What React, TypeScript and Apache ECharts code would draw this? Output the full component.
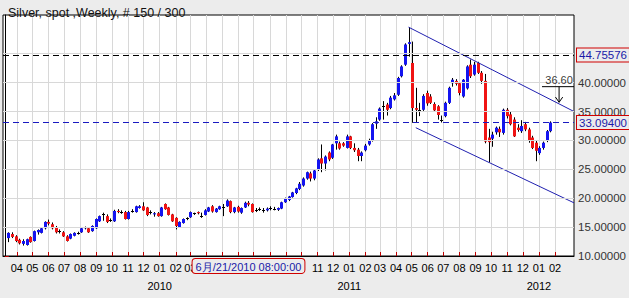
import React, { useEffect, useRef } from 'react';
import * as echarts from 'echarts';

// ---------- data ----------
const TITLE = 'Silver, spot ,Weekly, # 150 / 300';
const START_UTC = Date.UTC(2009, 2, 9); // Monday of the first (empty) weekly slot
const SLOT_COUNT = 157; // 1 empty slot + 150 weekly bars + 6 empty slots
const FIRST_BAR_SLOT = 1;
const FIRST_MONTH = [2009, 3]; // April 2009 (0-based month)
const LAST_MONTH = [2012, 1]; // February 2012

const OPEN = [
  13.1, 13.8, 13.4, 12.8, 12.1, 11.9, 13.3, 12.6, 14.1, 14.0,
  14.8, 15.9, 15.5, 15.0, 14.3, 14.1, 13.4, 13.0, 13.5, 14.0,
  14.1, 14.8, 14.8, 14.3, 14.8, 16.0, 17.2, 16.9, 16.2, 16.0,
  17.8, 17.6, 17.6, 16.4, 17.8, 17.6, 18.3, 18.6, 18.4, 17.6,
  17.2, 17.4, 16.9, 19.0, 18.4, 17.2, 16.6, 15.0, 15.7, 16.5,
  16.7, 17.4, 17.6, 17.0, 17.1, 17.7, 18.6, 17.6, 18.1, 18.4,
  18.6, 19.5, 17.6, 18.5, 17.5, 18.4, 19.2, 19.0, 17.9, 18.1,
  18.0, 17.9, 18.3, 18.2, 18.0, 18.2, 19.3, 19.7, 20.2, 20.9,
  21.6, 22.2, 23.4, 24.3, 23.4, 25.0, 26.9, 26.0, 27.9, 27.0,
  29.5, 29.5, 29.5, 28.7, 30.7, 28.7, 28.4, 27.3, 28.3, 29.3,
  29.9, 32.9, 33.6, 35.8, 36.2, 35.6, 37.1, 37.9, 41.1, 43.1,
  46.7, 43.4, 35.6, 35.3, 35.3, 38.2, 37.6, 36.3, 35.9, 33.4,
  34.2, 36.5, 39.9, 40.3, 39.9, 37.6, 39.0, 43.1, 41.4, 43.4,
  41.7, 40.3, 30.5, 30.3, 31.4, 32.0, 31.3, 35.3, 34.5, 33.6,
  32.2, 31.6, 32.8, 31.9, 30.5, 29.6, 27.8, 28.7, 29.9, 31.6,
];
const HIGH = [
  14.1, 14.1, 13.6, 13.0, 12.9, 13.0, 13.4, 14.4, 14.6, 15.0,
  16.0, 16.3, 15.8, 15.2, 14.6, 14.3, 13.6, 13.9, 14.1, 14.2,
  15.0, 15.1, 15.0, 15.3, 16.5, 17.0, 17.5, 17.2, 16.5, 18.0,
  18.1, 17.9, 17.8, 17.8, 18.1, 18.7, 18.8, 19.3, 18.5, 17.9,
  17.6, 17.6, 18.5, 19.1, 18.5, 17.3, 16.7, 16.0, 16.5, 16.7,
  17.7, 17.5, 17.7, 17.5, 18.1, 18.5, 18.8, 18.3, 18.7, 19.0,
  19.8, 19.6, 18.5, 18.7, 18.4, 19.4, 19.5, 19.1, 18.3, 18.4,
  18.3, 18.4, 18.6, 18.5, 18.4, 19.4, 20.1, 20.4, 21.1, 21.8,
  22.8, 23.6, 24.6, 24.6, 24.9, 26.9, 29.3, 27.4, 28.1, 29.4,
  31.0, 29.8, 29.7, 31.0, 30.8, 29.5, 28.7, 28.1, 29.4, 30.3,
  33.0, 34.0, 35.7, 36.8, 36.5, 37.7, 38.2, 41.0, 43.0, 46.8,
  49.6, 47.1, 39.1, 36.5, 38.0, 38.6, 38.0, 36.6, 36.1, 34.3,
  36.7, 39.3, 40.8, 40.6, 40.1, 40.6, 43.0, 44.0, 43.6, 43.6,
  42.0, 41.5, 32.0, 31.5, 32.4, 32.4, 35.5, 35.6, 35.0, 34.0,
  32.8, 33.5, 33.2, 32.2, 30.8, 29.9, 29.0, 29.8, 31.8, 33.3,
];
const LOW = [
  12.4, 13.1, 12.4, 12.0, 11.8, 11.8, 12.3, 12.5, 13.7, 13.9,
  14.6, 15.3, 14.6, 13.9, 13.9, 13.3, 12.5, 12.9, 13.4, 13.7,
  14.0, 14.6, 14.0, 14.2, 14.7, 15.9, 16.1, 15.7, 15.9, 15.9,
  17.4, 17.3, 16.3, 16.3, 17.5, 17.5, 18.2, 17.8, 16.9, 17.2,
  16.8, 16.8, 16.8, 18.0, 17.0, 15.9, 14.6, 14.9, 15.6, 16.2,
  16.6, 17.1, 17.2, 16.6, 17.0, 17.6, 17.5, 17.5, 18.0, 16.9,
  18.5, 17.4, 17.4, 17.5, 17.3, 18.3, 18.6, 17.5, 17.6, 17.8,
  17.5, 17.7, 17.9, 17.9, 17.8, 18.1, 19.2, 19.5, 20.1, 20.7,
  21.4, 22.0, 23.2, 22.9, 23.1, 24.7, 24.5, 24.8, 26.4, 26.8,
  28.4, 28.4, 28.9, 28.6, 28.5, 28.0, 26.4, 26.4, 28.1, 29.1,
  29.8, 32.0, 33.4, 33.6, 34.3, 35.4, 36.9, 37.7, 40.9, 42.9,
  44.5, 33.05, 33.05, 34.2, 35.1, 36.0, 36.3, 35.0, 33.6, 33.1,
  34.0, 36.3, 39.3, 39.5, 37.8, 37.4, 38.8, 40.8, 41.2, 41.5,
  39.8, 29.5, 26.2, 28.9, 31.0, 30.6, 31.0, 33.8, 32.6, 30.6,
  31.5, 31.3, 31.6, 29.6, 28.5, 26.4, 27.5, 28.4, 29.7, 31.4,
];
const CLOSE = [
  14.0, 13.3, 12.6, 12.2, 12.6, 12.9, 12.4, 14.3, 14.5, 14.8,
  15.9, 15.6, 14.8, 14.1, 14.3, 13.4, 12.6, 13.8, 14.0, 14.0,
  14.8, 15.0, 14.1, 15.2, 16.4, 16.9, 17.2, 15.9, 16.2, 17.8,
  17.6, 17.6, 16.4, 17.6, 17.8, 18.6, 18.6, 17.9, 17.1, 17.6,
  17.4, 16.9, 18.4, 18.1, 17.1, 16.0, 15.2, 15.9, 16.4, 16.5,
  17.6, 17.4, 17.4, 17.0, 17.9, 18.4, 17.7, 18.2, 18.6, 18.5,
  19.6, 17.6, 18.4, 17.7, 18.3, 19.2, 18.9, 17.6, 18.0, 18.1,
  18.0, 18.2, 18.2, 18.2, 18.3, 19.3, 20.0, 20.3, 21.0, 21.7,
  22.5, 23.4, 24.5, 23.4, 24.8, 26.7, 26.0, 27.2, 26.7, 29.3,
  30.7, 28.6, 29.1, 30.7, 28.7, 28.3, 27.3, 27.9, 29.1, 29.9,
  32.8, 33.3, 35.5, 35.9, 35.3, 37.4, 37.8, 40.8, 42.8, 46.6,
  47.0, 35.6, 35.3, 35.15, 37.7, 36.4, 36.5, 35.2, 34.4, 33.5,
  36.5, 39.1, 40.5, 39.8, 38.2, 40.5, 42.8, 41.1, 43.1, 41.7,
  40.3, 29.8, 29.7, 31.0, 32.2, 31.4, 35.3, 34.2, 32.8, 30.7,
  31.8, 32.5, 31.9, 29.9, 28.7, 28.2, 28.7, 29.6, 31.6, 33.094,
];

const Y_TICKS = [10, 15, 20, 25, 30, 35, 40, 45];
const Y_GRID = [15, 20, 25, 30, 35, 40, 45];
const RESISTANCE = 44.75576;
const LAST_PRICE = 33.094;
// trend channel, in [slot, price]
const CHANNEL_UPPER = [[111, 49.6], [156.5, 35.0]];
const CHANNEL_LOWER = [[113, 32.2], [156.5, 19.2]];
// "36.60" note
const NOTE_TEXT = '36.60';
const NOTE_UNDERLINE = [[147.7, 39.3], [156.5, 39.3]];
const NOTE_ARROW = [[152.4, 39.3], [152.4, 36.6]];
const NOTE_HEAD = [[151.4, 37.5], [152.4, 36.6], [153.4, 37.5]];
const CURSOR_DATE = [2010, 5, 21]; // 21 June 2010
const CURSOR_HALF_WIDTH = 15.5; // month labels hidden under the cursor box, in slots

// ---------- derived ----------
const DAY = 86400000;
const pad = (n: number) => String(n).padStart(2, '0');
const slotOf = (y: number, m: number, d: number) => (Date.UTC(y, m, d) - START_UTC) / (7 * DAY);
const dateOfSlot = (s: number) => new Date(START_UTC + Math.round(s * 7) * DAY);
const CATEGORIES = Array.from({ length: SLOT_COUNT }, (_, k) => {
  const d = dateOfSlot(k);
  return `${d.getUTCFullYear()}-${pad(d.getUTCMonth() + 1)}-${pad(d.getUTCDate())}`;
});
const MONTHS: { pos: number; month: string; year: number }[] = [];
for (let y = FIRST_MONTH[0], m = FIRST_MONTH[1]; y < LAST_MONTH[0] || (y === LAST_MONTH[0] && m <= LAST_MONTH[1]); ) {
  MONTHS.push({ pos: slotOf(y, m, 1), month: pad(m + 1), year: y });
  m += 1;
  if (m > 11) { m = 0; y += 1; }
}
const CURSOR_SLOT = slotOf(CURSOR_DATE[0], CURSOR_DATE[1], CURSOR_DATE[2]);
const MONTH_POS = MONTHS.map((m) => m.pos);
const LABEL_POS = MONTHS.filter((m) => Math.abs(m.pos - CURSOR_SLOT) > CURSOR_HALF_WIDTH).map((m) => m.pos);
const YEAR_POS = MONTHS.filter((m) => m.month === '01').map((m) => m.pos);
const findMonth = (v: number) => MONTHS.find((x) => Math.abs(x.pos - v) < 1e-6);
const CANDLES = OPEN.map((o, i) => [i + FIRST_BAR_SLOT, o, CLOSE[i], LOW[i], HIGH[i]]);

const UP = '#1414f0';
const DOWN = '#f01414';
const FONT = '"Liberation Sans", Arial, sans-serif';

const renderCandle = (_params: any, api: any) => {
  const slot = api.value(0);
  const o = api.value(1);
  const c = api.value(2);
  const l = api.value(3);
  const h = api.value(4);
  const pO = api.coord([slot, o]);
  const pC = api.coord([slot, c]);
  const pL = api.coord([slot, l]);
  const pH = api.coord([slot, h]);
  const cx = Math.round(pO[0]) + 0.5;
  const top = Math.min(pO[1], pC[1]);
  const bot = Math.max(pO[1], pC[1]);
  const flat = bot - top < 1;
  const color = flat ? '#000' : c > o ? UP : DOWN;
  return {
    type: 'group',
    children: [
      { type: 'line', shape: { x1: cx, y1: pH[1], x2: cx, y2: pL[1] }, style: { stroke: '#000', lineWidth: 1 } },
      {
        type: 'rect',
        shape: { x: cx - 1.5, y: flat ? Math.round(top) : top, width: 3, height: flat ? 1 : bot - top },
        style: { fill: color },
      },
    ],
  };
};

const priceLabel = (text: string) => ({
  show: true,
  position: 'end',
  distance: 3,
  formatter: text,
  color: '#1a1aa8',
  fontSize: 11.5,
  fontFamily: FONT,
  backgroundColor: '#ececec',
  borderColor: '#d00000',
  borderWidth: 1,
  padding: [1, 2, 0, 2],
});

export default function App() {
  const ref = useRef<HTMLDivElement>(null);
  useEffect(() => {
    if (!ref.current) return;
    const chart = echarts.init(ref.current, undefined, { renderer: 'svg' });
    const option: any = {
      animation: false,
      backgroundColor: '#ececec',
      textStyle: { fontFamily: FONT },
      title: {
        text: TITLE,
        left: 3,
        top: 1,
        textStyle: { fontSize: 12.5, fontWeight: 'normal', color: '#111', fontFamily: FONT },
      },
      grid: {
        left: 3,
        right: 55,
        top: 15,
        bottom: 42,
        show: true,
        backgroundColor: '#ffffff',
        borderColor: '#000',
        borderWidth: 1,
      },
      xAxis: [
        {
          type: 'category',
          data: CATEGORIES,
          boundaryGap: true,
          show: false,
        },
        {
          type: 'value',
          position: 'bottom',
          min: -0.5,
          max: SLOT_COUNT - 0.5,
          axisLine: { show: true, lineStyle: { color: '#000' } },
          axisTick: {
            show: true,
            inside: true,
            length: 4,
            customValues: MONTH_POS,
            lineStyle: { color: '#c00000' },
          },
          axisLabel: {
            customValues: LABEL_POS,
            hideOverlap: false,
            formatter: (v: number) => {
              const m = findMonth(v);
              return m ? m.month : '';
            },
            color: '#000',
            fontSize: 11,
            lineHeight: 18,
            margin: 3,
            fontFamily: FONT,
          },
          splitLine: { show: true, lineStyle: { color: '#d8d8d8', width: 1 } },
          axisPointer: {
            show: true,
            type: 'line',
            value: CURSOR_SLOT,
            status: 'show',
            triggerTooltip: false,
            lineStyle: { opacity: 0 },
            label: {
              show: true,
              formatter: (p: any) => {
                const d = dateOfSlot(Number(p.value));
                return `${d.getUTCMonth() + 1}月/${pad(d.getUTCDate())}/${d.getUTCFullYear()} 08:00:00`;
              },
              color: '#1a1aa8',
              fontSize: 11,
              fontFamily: FONT,
              backgroundColor: '#ececec',
              borderColor: '#d00000',
              borderWidth: 1,
              padding: [2, 3, 1, 3],
              margin: 3,
            },
          },
        },
        {
          type: 'value',
          position: 'bottom',
          min: -0.5,
          max: SLOT_COUNT - 0.5,
          axisLine: { show: false },
          axisTick: { show: false, customValues: YEAR_POS },
          splitLine: { show: false },
          axisLabel: {
            customValues: YEAR_POS,
            formatter: (v: number) => {
              const m = findMonth(v);
              return m ? String(m.year) : '';
            },
            color: '#000',
            fontSize: 11,
            lineHeight: 18,
            margin: 21,
            fontFamily: FONT,
          },
        },
      ],
      yAxis: {
        type: 'value',
        position: 'right',
        min: 10,
        max: 51.7,
        interval: 5,
        axisLine: { show: true, lineStyle: { color: '#000' } },
        axisTick: { show: true, length: 4, customValues: Y_TICKS, lineStyle: { color: '#c00000' } },
        axisLabel: {
          customValues: Y_TICKS,
          formatter: (v: number) => v.toFixed(5),
          color: '#333',
          fontSize: 11.5,
          margin: 4,
          fontFamily: FONT,
        },
        splitLine: { show: false },
      },
      series: [
        {
          type: 'line',
          xAxisIndex: 1,
          data: [],
          z: 1,
          silent: true,
          markLine: {
            silent: true,
            symbol: 'none',
            label: { show: false },
            lineStyle: { color: '#d8d8d8', type: 'solid', width: 1 },
            data: Y_GRID.map((v) => ({ yAxis: v })),
          },
        },
        {
          type: 'custom',
          data: CANDLES,
          encode: { x: 0, y: [1, 2, 3, 4] },
          renderItem: renderCandle,
          z: 3,
          silent: true,
          markLine: {
            silent: true,
            symbol: 'none',
            data: [
              {
                yAxis: RESISTANCE,
                lineStyle: { color: '#000', type: [6, 4], width: 1 },
                label: priceLabel(RESISTANCE.toFixed(5)),
              },
              {
                yAxis: LAST_PRICE,
                lineStyle: { color: '#1a1ac0', type: [6, 4], width: 1 },
                label: priceLabel(LAST_PRICE.toFixed(5)),
              },
            ],
          },
        },
        {
          type: 'line',
          xAxisIndex: 1,
          data: CHANNEL_UPPER,
          symbol: 'none',
          silent: true,
          z: 4,
          lineStyle: { color: '#2020b0', width: 1 },
        },
        {
          type: 'line',
          xAxisIndex: 1,
          data: CHANNEL_LOWER,
          symbol: 'none',
          silent: true,
          z: 4,
          lineStyle: { color: '#2020b0', width: 1 },
        },
        {
          type: 'line',
          xAxisIndex: 1,
          data: NOTE_UNDERLINE,
          symbol: 'none',
          silent: true,
          z: 5,
          lineStyle: { color: '#000', width: 1 },
        },
        {
          type: 'line',
          xAxisIndex: 1,
          data: NOTE_ARROW,
          symbol: 'none',
          silent: true,
          z: 5,
          lineStyle: { color: '#000', width: 1 },
        },
        {
          type: 'line',
          xAxisIndex: 1,
          data: NOTE_HEAD,
          symbol: 'none',
          silent: true,
          z: 5,
          lineStyle: { color: '#000', width: 1 },
        },
        {
          type: 'scatter',
          xAxisIndex: 1,
          data: [[NOTE_ARROW[0][0], NOTE_UNDERLINE[0][1]]],
          symbolSize: 1,
          silent: true,
          z: 5,
          clip: false,
          itemStyle: { color: 'transparent' },
          label: {
            show: true,
            position: 'top',
            distance: 1,
            formatter: NOTE_TEXT,
            color: '#000',
            fontSize: 11,
            fontFamily: FONT,
          },
        },
      ],
    };
    chart.setOption(option);
    return () => chart.dispose();
  }, []);
  return <div ref={ref} style={{ position: 'fixed', left: 0, top: 0, width: 629, height: 298 }} />;
}
